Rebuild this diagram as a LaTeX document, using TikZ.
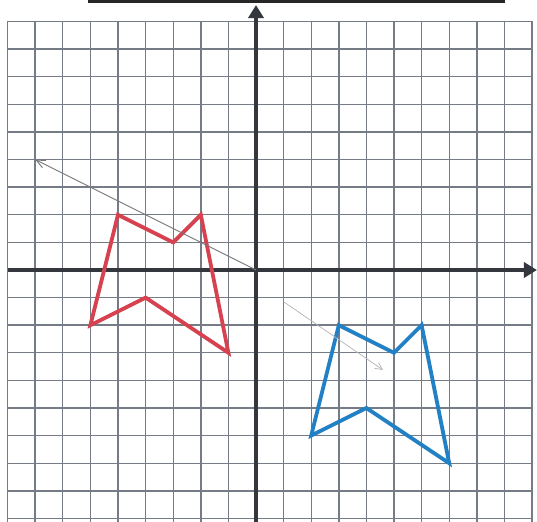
\documentclass[tikz,border=0pt]{standalone}
\usetikzlibrary{arrows.meta}
\definecolor{gridc}{RGB}{118,124,134}
\definecolor{axisc}{RGB}{52,56,62}
\definecolor{redc}{RGB}{214,66,80}
\definecolor{bluec}{RGB}{34,128,196}
\definecolor{pencil}{RGB}{120,120,124}
\tikzset{
  gridline/.style={draw=gridc, line width=1.4pt},
  axisline/.style={draw=axisc, line width=4.6pt, -{Triangle[length=13pt,width=15pt]}},
  redshape/.style={draw=redc, line width=3.8pt, line join=miter},
  blueshape/.style={draw=bluec, line width=3.8pt, line join=miter},
  pencilarrow/.style={draw=pencil, line width=0.9pt, -{Straight Barb[open,length=9pt,width=8pt]}},
  faintarrow/.style={draw=pencil!55, line width=0.7pt, -{Straight Barb[length=7pt,width=7pt]}},
}
\begin{document}
\begin{tikzpicture}[x=27.6pt,y=27.6pt]
\useasboundingbox[fill=white] (-256pt,-251pt) rectangle (281pt,270pt);
% page rule at top
\draw[black!85, line width=2.6pt] (-6.1,9.72) -- (9.02,9.72);
% grid
\draw[gridline, xstep=1, ystep=1] (-9,-9.3) grid (10,9);
\draw[gridline] (-9,-9.3) -- (-9,9) -- (10,9) -- (10,-9.3);
% axes
\coordinate (O) at (0,0);
\coordinate (xs) at (-9,0);
\coordinate (xe) at (10.18,0);
\coordinate (ys) at (0,-9.3);
\coordinate (ye) at (0,9.6);
\draw[axisline] (xs) -- (xe);
\draw[axisline] (ys) -- (ye);
% red figure
\coordinate (r1) at (-5,2);
\coordinate (r2) at (-3,1);
\coordinate (r3) at (-2,2);
\coordinate (r4) at (-1,-3);
\coordinate (r5) at (-4,-1);
\coordinate (r6) at (-6,-2);
\draw[redshape] (r1) -- (r2) -- (r3) -- (r4) -- (r5) -- (r6) -- cycle;
% blue figure
\coordinate (b1) at (3,-2);
\coordinate (b2) at (5,-3);
\coordinate (b3) at (6,-2);
\coordinate (b4) at (7,-7);
\coordinate (b5) at (4,-5);
\coordinate (b6) at (2,-6);
\draw[blueshape] (b1) -- (b2) -- (b3) -- (b4) -- (b5) -- (b6) -- cycle;
% pencil vectors
\coordinate (v1) at (-8,4);
\draw[pencilarrow] (O) -- (v1);
\coordinate (w0) at (1,-1.15);
\coordinate (w1) at (4.6,-3.62);
\draw[faintarrow] (w0) -- (w1);
\end{tikzpicture}
\end{document}
